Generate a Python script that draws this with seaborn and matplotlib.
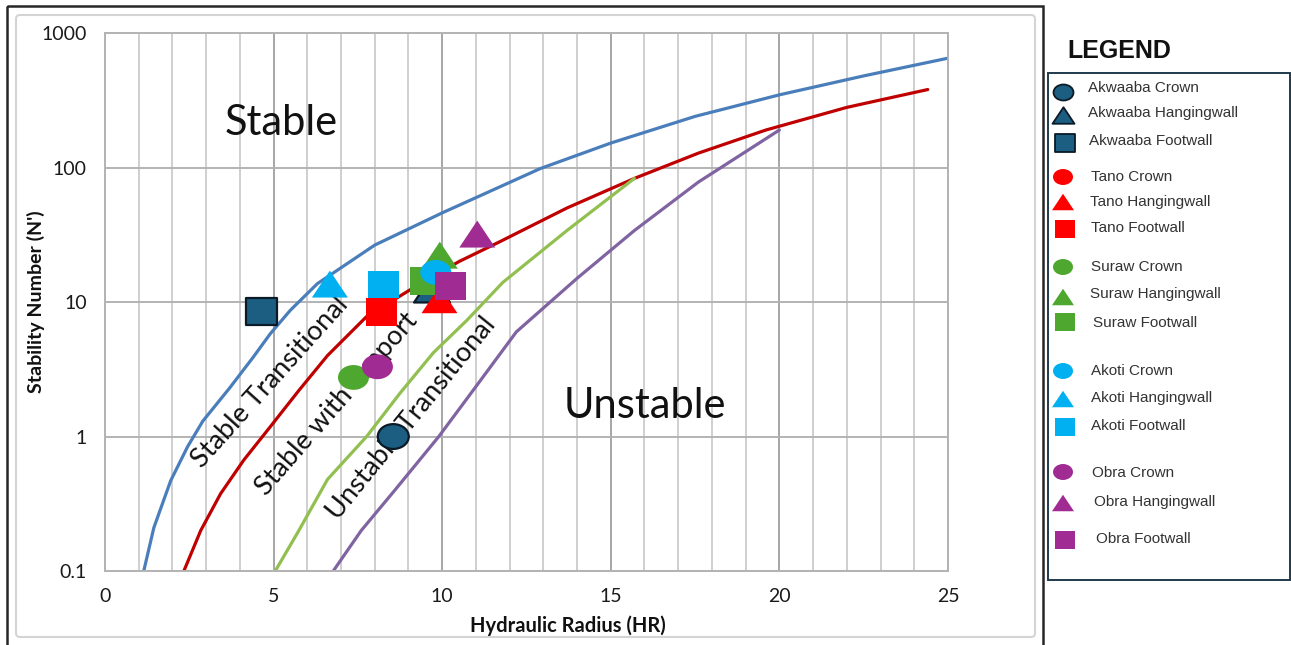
import matplotlib
matplotlib.use("Agg")
import matplotlib.pyplot as plt
import numpy as np
import pandas as pd
import seaborn as sns
from matplotlib.path import Path
from matplotlib.transforms import Affine2D
from matplotlib.patches import Rectangle, FancyBboxPatch
from matplotlib.ticker import FixedLocator, FixedFormatter, MultipleLocator, NullLocator

# ---------------------------------------------------------------- data
# Stability graph zone boundaries (hydraulic radius vs stability number N')
stable_hr = [1.15, 1.45, 1.95, 2.45, 2.9, 3.7, 4.4, 4.9, 5.5, 6.3, 8.0, 10.0,
             11.5, 12.9, 15.0, 17.5, 20.0, 22.5, 25.0]
stable_n = [0.1, 0.21, 0.47, 0.84, 1.3, 2.3, 3.9, 5.8, 8.7, 13.7, 26.5, 46,
            68, 98, 152, 240, 347, 480, 650]

support_hr = [2.34, 2.84, 3.43, 4.12, 4.9, 5.75, 6.6, 7.76, 9.2, 10.5, 11.7,
              13.7, 15.7, 17.6, 19.6, 22.0, 24.4]
support_n = [0.1, 0.2, 0.376, 0.67, 1.18, 2.2, 4.0, 7.8, 13, 20, 28,
             50, 83, 128, 190, 280, 380]

transition_hr = [5.05, 5.75, 6.6, 7.76, 8.75, 9.74, 10.73, 11.8, 13.7, 15.7]
transition_n = [0.1, 0.2, 0.48, 1.0, 2.1, 4.2, 7.3, 14, 34, 83]

unstable_hr = [6.77, 7.6, 8.6, 9.9, 11.0, 12.2, 14.0, 15.7, 17.6, 20.0]
unstable_n = [0.1, 0.2, 0.4, 1.0, 2.35, 6.0, 15, 34, 78, 190]

# Stope surfaces: Crown, Hangingwall, Footwall
locations = ["Crown", "Hangingwall", "Footwall"]
mines = ["Akwaaba", "Tano", "Suraw", "Akoti", "Obra"]

akwaaba_hr = [8.55, 9.7, 4.65]
akwaaba_n = [1.0, 12.5, 8.5]
tano_hr = [8.2, 9.92, 8.2]
tano_n = [8.4, 10.4, 8.4]
suraw_hr = [7.37, 9.93, 9.5]
suraw_n = [2.75, 22.3, 14.4]
akoti_hr = [9.81, 6.67, 8.27]
akoti_n = [16.6, 13.6, 13.5]
obra_hr = [8.08, 11.04, 10.24]
obra_n = [3.3, 32, 13.2]

x_ticks = [0, 5, 10, 15, 20, 25]
y_ticks = [0.1, 1, 10, 100, 1000]
y_tick_labels = ["0.1", "1", "10", "100", "1000"]

# ---------------------------------------------------------------- style
sns.set_style("white")
plt.rcParams["font.family"] = ["Lato", "DejaVu Sans"]

curve_colors = ["#4a7ebb", "#c00000", "#92c050", "#8064a2"]
mine_colors = {"Akwaaba": "#1b5e82", "Tano": "#ff0000", "Suraw": "#4ea72e",
               "Akoti": "#00b0f0", "Obra": "#a02b93"}

ellipse = Affine2D().scale(1.0, 0.8).transform_path(Path.unit_circle())
triangle = Path([(-1, -0.75), (1, -0.75), (0, 0.75), (-1, -0.75)],
                [Path.MOVETO, Path.LINETO, Path.LINETO, Path.CLOSEPOLY])
rectangle = Path([(-1, -0.9), (1, -0.9), (1, 0.9), (-1, 0.9), (-1, -0.9)],
                 [Path.MOVETO, Path.LINETO, Path.LINETO, Path.LINETO, Path.CLOSEPOLY])
marker_map = {"Crown": ellipse, "Hangingwall": triangle, "Footwall": rectangle}
size_map = {"Crown": 498, "Hangingwall": 671, "Footwall": 498}

fig = plt.figure(figsize=(12.91, 6.45), dpi=100)
ax = fig.add_axes([0.0813, 0.1147, 0.6530, 0.8341])

# ---------------------------------------------------------------- curves
for hr, n, c in [(stable_hr, stable_n, curve_colors[0]),
                 (support_hr, support_n, curve_colors[1]),
                 (transition_hr, transition_n, curve_colors[2]),
                 (unstable_hr, unstable_n, curve_colors[3])]:
    sns.lineplot(x=hr, y=n, color=c, lw=2.3, sort=False, estimator=None,
                 ax=ax, zorder=2)

ax.set_yscale("log")
ax.set_xlim(0, 25)
ax.set_ylim(0.1, 1000)

# ---------------------------------------------------------------- zone labels
ax.text(5.22, 215, "Stable", fontsize=30, ha="center", va="center",
        color="#111111", zorder=3)
ax.text(16.0, 1.68, "Unstable", fontsize=30, ha="center", va="center",
        color="#111111", zorder=3)
for x, y, label, rot in [(4.9, 2.54, "Stable Transitional", 48),
                         (6.87, 1.75, "Stable with support", 49),
                         (9.1, 1.36, "Unstable Transitional", 51)]:
    ax.text(x, y, label, fontsize=19.5, rotation=rot, rotation_mode="anchor",
            ha="center", va="center", color="#111111", zorder=3)

# ---------------------------------------------------------------- observations
observations = {"Akwaaba": (akwaaba_hr, akwaaba_n), "Tano": (tano_hr, tano_n),
                "Suraw": (suraw_hr, suraw_n), "Akoti": (akoti_hr, akoti_n),
                "Obra": (obra_hr, obra_n)}
for mine in mines:
    hr, n = observations[mine]
    df = pd.DataFrame({"hr": hr, "n": n, "location": locations})
    outlined = mine == "Akwaaba"
    sns.scatterplot(data=df, x="hr", y="n", style="location",
                    style_order=locations, markers=marker_map,
                    size="location", size_order=locations, sizes=size_map,
                    color=mine_colors[mine],
                    edgecolor="#0a1a26" if outlined else "none",
                    linewidth=1.6 if outlined else 0,
                    legend=False, ax=ax, zorder=5)

# ---------------------------------------------------------------- axes
ax.xaxis.set_major_locator(FixedLocator(x_ticks))
ax.xaxis.set_minor_locator(MultipleLocator(1))
ax.yaxis.set_major_locator(FixedLocator(y_ticks))
ax.yaxis.set_major_formatter(FixedFormatter(y_tick_labels))
ax.yaxis.set_minor_locator(NullLocator())
ax.grid(which="major", axis="x", color="#a6a6a6", lw=1.4)
ax.grid(which="minor", axis="x", color="#cfcfcf", lw=1.4)
ax.grid(which="major", axis="y", color="#b3b3b3", lw=1.4)
ax.set_axisbelow(True)
for sp in ax.spines.values():
    sp.set_color("#b3b3b3")
    sp.set_linewidth(1.4)
ax.tick_params(axis="both", which="major", direction="out", length=4,
               width=1.2, color="#a6a6a6", labelsize=14, labelcolor="#1a1a1a")
ax.tick_params(axis="x", which="major", pad=8)
ax.tick_params(axis="y", which="major", pad=9)
ax.tick_params(axis="x", which="minor", length=0)

ax.set_xlabel("Hydraulic Radius (HR)", fontsize=14.5, fontweight="bold",
              color="#111111")
ax.set_ylabel("Stability Number (N')", fontsize=14, fontweight="bold",
              color="#111111")
ax.xaxis.set_label_coords(0.549, -0.102)
ax.xaxis.label.set_va("center")
ax.yaxis.set_label_coords(-0.0824, 0.5)
ax.yaxis.label.set_va("center")

# ---------------------------------------------------------------- frames & legend
ov = fig.add_axes([0, 0, 1, 1])
ov.set_xlim(0, 1291)
ov.set_ylim(645, 0)
ov.axis("off")
ov.add_patch(Rectangle((7, 6), 1036, 650, fill=False, ec="#262626", lw=1.8))
ov.add_patch(FancyBboxPatch((16, 15), 1019, 622, boxstyle="round,pad=0,rounding_size=4",
                            fill=False, ec="#d4d4d4", lw=1.5))
ov.add_patch(Rectangle((1048, 73), 242, 507, fill=False, ec="#1f3a4c", lw=1.4))
ov.text(1067, 58, "LEGEND", fontsize=18, fontweight="bold",
        family=["Liberation Sans", "DejaVu Sans"], ha="left", va="baseline",
        color="#111111")

legend_marker_y = [92, 115, 143, 177, 202, 229, 267, 297, 322, 371, 399, 427, 472, 503, 540]
legend_text_y = [88, 113, 141, 177, 202, 228, 267, 294, 323, 371, 398, 426, 473, 502, 539]
legend_text_x = [1088, 1088, 1089, 1091, 1090, 1091, 1091, 1090, 1093,
                 1091, 1091, 1091, 1092, 1094, 1096]
legend_marker_x = {"Crown": 1063, "Hangingwall": 1063, "Footwall": 1065}
legend_size = {"Crown": 207, "Hangingwall": 251, "Footwall": 207}

i = 0
for mine in mines:
    for loc in locations:
        outlined = mine == "Akwaaba"
        ov.scatter([legend_marker_x[loc]], [legend_marker_y[i]], s=legend_size[loc],
                   marker=marker_map[loc], color=mine_colors[mine],
                   edgecolor="#0a1a26" if outlined else "none",
                   linewidth=1.3 if outlined else 0)
        ov.text(legend_text_x[i], legend_text_y[i], f"{mine} {loc}", fontsize=11,
                family=["Liberation Sans", "DejaVu Sans"], ha="left", va="center",
                color="#333333")
        i += 1

fig.savefig("out.png", dpi=100, facecolor="white")
